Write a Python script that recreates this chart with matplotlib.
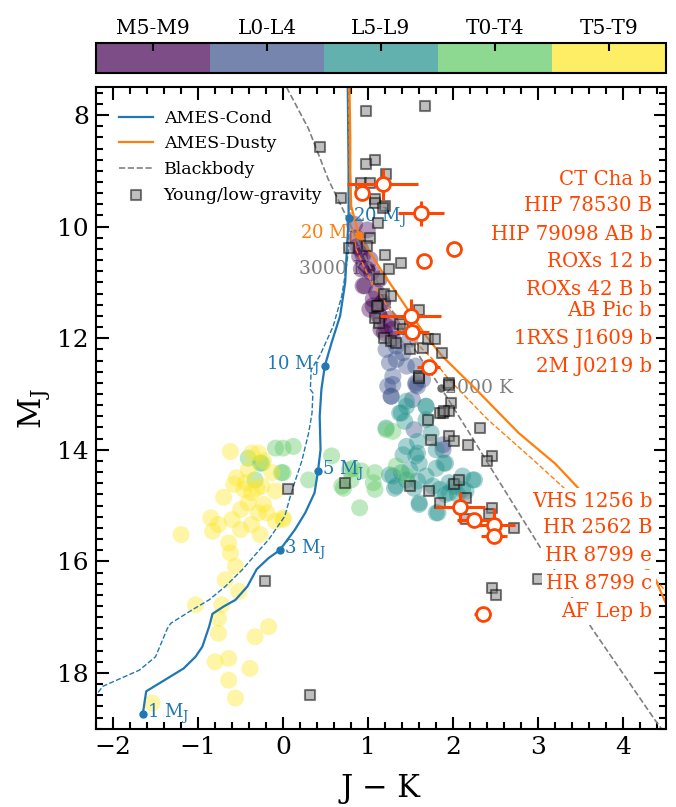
import numpy as np
import matplotlib.pyplot as plt
from matplotlib import colors, cm

plt.rcParams['font.family'] = 'DejaVu Serif'
plt.rcParams['mathtext.fontset'] = 'dejavuserif'

# field dwarfs: J-K colour, M_J, numeric spectral type (M5=15, L0=20, T0=30)
field_jk = [0.84, 0.99, 0.88, 0.94, 1.02, 0.92, 1.04, 1.13, 0.96, 1.10, 1.06, 1.17, 1.13, 1.21, 1.19, 1.29,
            0.90, 0.98, 0.94, 1.06, 1.02, 1.17, 1.13, 1.25, 1.15, 1.29, 0.86, 0.91,
            1.21, 1.25, 1.33, 1.45, 1.29, 1.27, 1.56, 1.56, 1.64, 1.41, 1.49, 1.23, 1.58, 1.33,
            1.54, 1.88, 1.29, 1.56, 1.52, 1.27, 1.88,
            1.45, 1.37, 1.43, 1.68, 1.68, 1.21, 1.74, 1.58, 1.45, 1.80, 1.58, 1.41, 1.60, 1.89,
            1.80, 1.25, 1.39, 1.49, 1.31, 1.45, 1.58, 1.68, 1.54, 1.76, 1.84, 1.95, 2.11, 2.23,
            1.91, 2.15, 1.60, 1.80, 1.95, 1.39, 1.45, 1.68, 1.33, 1.29, 1.60, 1.82, 2.11, 2.25,
            1.91, 1.56, 2.01, 2.05,
            1.21, 1.29, 0.57, 0.78, 0.92, 1.08, 0.30, 0.69, 0.80, 1.06, 1.08, 0.90, 1.33, 1.45,
            -0.09, 0.00, 0.12, -0.25, -0.02, -0.41, -0.27, 0.00, -0.33, 0.82, 0.71,
            -0.62, -0.29, -0.13, -0.41, -0.58, -0.44, -0.25, -0.09, -0.37, -0.50, -0.41, -0.23,
            -0.29, -0.19, -0.09, 0.00, -0.37, -0.60, -0.50, -0.85, -0.76, -0.83, -0.27, -1.20,
            -0.64, -0.62, -0.56, -0.68, -0.52, -1.03, -0.72, -0.76, -0.76, -0.33, -0.17, -0.80,
            -0.64, -0.39, -0.64, -0.56, -1.54, -0.23, -0.46, -0.31, 0.00, -0.37, -0.55, -0.70]
field_mj = [9.96, 10.06, 10.35, 10.50, 10.59, 10.76, 10.82, 10.94, 11.06, 11.18, 11.42, 11.36, 11.60, 11.78, 11.90, 12.02,
            10.53, 10.76, 11.06, 11.30, 11.48, 11.36, 11.60, 11.66, 11.84, 11.84, 10.20, 10.40,
            12.20, 12.44, 12.38, 12.50, 12.68, 13.04, 12.50, 12.80, 12.74, 12.26, 12.02, 12.86, 12.86, 12.14,
            13.64, 13.91, 12.83, 12.83, 13.10, 13.04, 14.00,
            13.13, 13.34, 13.49, 13.22, 13.46, 13.61, 13.70, 13.85, 13.94, 14.00, 14.06, 14.09, 14.24, 14.24,
            14.33, 14.45, 14.41, 14.36, 14.69, 14.54, 14.56, 14.47, 14.69, 14.65, 14.71, 14.59, 14.47, 14.54,
            14.80, 14.74, 14.98, 15.13, 14.77, 13.34, 13.22, 13.22, 14.65, 14.47, 14.95, 15.13, 14.71, 14.54,
            14.24, 14.11, 14.65, 14.80,
            13.64, 13.67, 14.11, 14.36, 14.38, 14.41, 14.54, 14.65, 14.54, 14.59, 14.71, 15.04, 14.29, 14.47,
            13.97, 13.97, 13.94, 14.24, 14.41, 14.15, 14.24, 14.41, 14.54, 14.33, 14.69,
            14.03, 14.06, 14.41, 14.36, 14.62, 14.59, 14.65, 14.74, 14.77, 15.07, 14.95, 14.98,
            15.13, 15.13, 15.28, 15.22, 15.34, 15.25, 15.43, 15.22, 15.34, 15.46, 15.52, 15.52,
            15.67, 15.85, 16.09, 16.33, 16.54, 16.78, 16.78, 17.02, 17.29, 17.35, 17.17, 17.80,
            17.74, 17.92, 18.13, 18.45, 18.54, 14.20, 14.71, 14.69, 15.25, 14.06, 14.50, 14.85]
field_spt = [17] * 28 + [22] * 21 + [27] * 46 + [32] * 25 + [37] * 48

# young / low-gravity objects
young_jk = [0.97, 0.43, 1.08, 0.97, 0.92, 1.02, 0.68, 1.08, 1.20, 1.11, 1.02, 0.99, 1.20, 0.78, 1.25,
            1.21, 1.08, 1.17, 1.39, 1.13, 1.19, 1.27, 1.11, 1.60, 1.13, 1.37, 1.19, 1.27, 1.49, 1.64,
            1.70, 1.78, 1.87, 1.60, 1.95, 1.67, 1.10, 1.08, 1.33, 1.41, 1.60, 1.95, 1.97, 1.88, 1.95,
            1.70, 2.32, 1.74, 1.95, 2.01, 2.17, 2.46, 2.40, 0.73, 0.06, 1.49, 1.72, 1.84, 2.01, 2.07,
            2.15, 2.46, 2.42, 2.71, -0.21, 0.32, 2.46, 2.50, 3.00, 1.84, 1.89, 2.15]
young_mj = [7.93, 8.57, 8.80, 8.88, 9.21, 9.21, 9.49, 9.51, 9.63, 9.94, 10.20, 10.35, 10.50, 10.38, 10.76,
            9.06, 9.57, 9.66, 10.66, 10.94, 11.21, 11.24, 11.42, 11.49, 11.72, 11.75, 11.99, 12.05, 12.20, 12.17,
            12.02, 12.02, 12.26, 12.68, 12.80, 7.84, 11.42, 11.63, 12.08, 11.84, 12.71, 12.83, 13.16, 13.34, 13.31,
            13.46, 13.61, 13.82, 13.76, 13.85, 13.91, 14.11, 14.20, 14.59, 14.70, 14.65, 14.74, 14.95, 14.62, 14.54,
            14.86, 15.04, 15.16, 15.40, 16.36, 18.39, 16.48, 16.61, 16.31, 13.34, 13.31, 15.24]

# directly imaged companions
planet_jk = [1.17, 0.93, 1.62, 2.01, 1.66, 1.50, 1.52, 1.71, 2.08, 2.25, 2.48, 2.48, 2.35]
planet_jk_err = [0.42, 0.05, 0.27, 0.05, 0.05, 0.36, 0.20, 0.13, 0.29, 0.20, 0.25, 0.15, 0.10]
planet_mj = [9.24, 9.40, 9.76, 10.41, 10.62, 11.60, 11.89, 12.51, 15.03, 15.26, 15.35, 15.54, 16.94]
planet_mj_err = [0.28, 0.05, 0.22, 0.05, 0.05, 0.30, 0.10, 0.08, 0.28, 0.10, 0.30, 0.08, 0.05]
planet_names = ['CT Cha b', 'HIP 78530 B', 'HIP 79098 AB b', 'ROXs 12 b', 'ROXs 42 B b', 'AB Pic b',
                '1RXS J1609 b', '2M J0219 b', 'VHS 1256 b', 'HR 2562 B', 'HR 8799 e', 'HR 8799 c',
                'AF Lep b']
label_mj = [9.15, 9.62, 10.14, 10.63, 11.13, 11.50, 12.00, 12.50, 14.93, 15.40, 15.90, 16.40, 16.90]

# AMES-Cond isochrone (solid) and its companion track (dashed)
cond_jk = [0.76, 0.77, 0.77, 0.75, 0.73, 0.67, 0.57, 0.49, 0.45, 0.43, 0.44, 0.41, 0.37, 0.26, 0.14,
           -0.04, -0.17, -0.31, -0.42, -0.56, -0.70, -0.83, -0.87, -0.95, -1.03, -1.17, -1.61, -1.65]
cond_mj = [7.5, 9.0, 9.85, 10.4, 11.0, 11.6, 12.08, 12.5, 12.92, 13.4, 14.0, 14.38, 14.77, 15.13, 15.43,
           15.8, 15.94, 16.14, 16.45, 16.69, 16.81, 16.94, 17.17, 17.53, 17.71, 17.92, 18.33, 18.74]
cond2_jk = [0.77, 0.77, 0.74, 0.69, 0.59, 0.43, 0.33, 0.32, 0.35, 0.34, 0.30, 0.22, 0.10, 0.02, -0.17,
            -0.31, -0.48, -0.68, -0.87, -1.07, -1.32, -1.36, -1.50, -1.69, -2.12, -2.25]
cond2_mj = [7.5, 10.41, 10.76, 11.24, 11.78, 12.32, 12.56, 12.92, 12.98, 13.34, 13.7, 14.2, 14.75, 15.19,
            15.61, 15.85, 16.15, 16.45, 16.69, 16.87, 17.11, 17.2, 17.71, 17.95, 18.24, 18.5]
cond_mass_jk = [0.77, 0.49, 0.41, -0.04, -1.65]
cond_mass_mj = [9.85, 12.5, 14.38, 15.8, 18.74]
cond_mass = [20, 10, 5, 3, 1]

# AMES-Dusty
dusty_jk = [0.78, 0.79, 0.79, 0.80, 0.89, 1.02, 1.17, 1.33, 1.49, 1.68, 1.87, 2.07, 2.27, 2.77, 3.2,
            3.46, 3.9, 4.37, 4.5, 4.6]
dusty_mj = [7.5, 8.43, 9.0, 9.63, 10.15, 10.46, 10.82, 11.18, 11.54, 11.96, 12.32, 12.62, 12.92, 13.7,
            14.25, 14.67, 15.4, 16.3, 16.75, 17.1]
dusty2_jk = [0.77, 0.78, 0.80, 0.86, 1.02, 1.17, 1.33, 1.52, 1.76, 1.95, 2.4, 2.94, 3.27, 3.8, 4.3, 4.6]
dusty2_mj = [7.5, 9.0, 9.93, 10.41, 10.94, 11.3, 11.66, 12.02, 12.38, 12.74, 13.45, 14.18, 14.64, 15.4,
             16.2, 16.7]

# blackbody colours
bb_jk = [0.04, 0.30, 0.53, 0.76, 0.98, 1.25, 1.52, 1.86, 2.19, 2.5, 3.04, 3.63, 4.37, 4.55]
bb_mj = [7.5, 8.25, 9.15, 9.87, 10.59, 11.42, 12.14, 12.9, 13.7, 14.47, 15.79, 17.2, 18.84, 19.2]
bb_temp_jk = [1.03, 1.86]
bb_temp_mj = [10.76, 12.9]

sp_bins = [15, 20, 25, 30, 35, 40]
sp_names = ['M5-M9', 'L0-L4', 'L5-L9', 'T0-T4', 'T5-T9']

fig = plt.figure(figsize=(6.76, 8.07), dpi=100)
ax = fig.add_axes([0.142, 0.097, 0.843, 0.795])
cax = fig.add_axes([0.142, 0.9095, 0.843, 0.037])

cmap = plt.get_cmap('viridis', 5)
norm = colors.Normalize(vmin=sp_bins[0], vmax=sp_bins[-1])

ax.scatter(field_jk, field_mj, c=field_spt, cmap=cmap, norm=norm, s=150, alpha=0.4,
           edgecolors='none', zorder=1)

ax.plot(cond_jk, cond_mj, color='tab:blue', lw=1.6, zorder=2, label='AMES-Cond')
ax.plot(cond2_jk, cond2_mj, color='tab:blue', lw=1.0, ls='--', zorder=2)
ax.plot(dusty_jk, dusty_mj, color='tab:orange', lw=1.6, zorder=2, label='AMES-Dusty')
ax.plot(dusty2_jk, dusty2_mj, color='tab:orange', lw=1.0, ls='--', zorder=2)
ax.plot(bb_jk, bb_mj, color='gray', lw=1.2, ls='--', zorder=2, label='Blackbody')

ax.plot(cond_mass_jk, cond_mass_mj, 'o', color='tab:blue', ms=5, zorder=3)
for x, y, m in zip(cond_mass_jk, cond_mass_mj, cond_mass):
    if m == 10:
        ax.text(x - 0.06, y, f'{m} ' + r'$\mathrm{M_J}$', color='tab:blue', fontsize=13,
                ha='right', va='center', zorder=3)
    else:
        ax.text(x + 0.05, y, f'{m} ' + r'$\mathrm{M_J}$', color='tab:blue', fontsize=13,
                ha='left', va='center', zorder=3)
ax.plot([0.89], [10.15], 'o', color='tab:orange', ms=5, zorder=3)
ax.text(0.83, 10.15, r'20 $\mathrm{M_J}$', color='tab:orange', fontsize=13,
        ha='right', va='center', zorder=0.5)

ax.plot(bb_temp_jk, bb_temp_mj, 'o', color='dimgray', ms=5, zorder=0.5)
ax.text(bb_temp_jk[0] - 0.05, bb_temp_mj[0], '3000 K', color='gray', fontsize=13.5,
        ha='right', va='center', zorder=0.5)
ax.text(bb_temp_jk[1] + 0.04, bb_temp_mj[1], '2000 K', color='gray', fontsize=13.5,
        ha='left', va='center', zorder=0.5)

ax.scatter(young_jk, young_mj, marker='s', s=50, facecolor='gray', edgecolor='black',
           lw=1.5, alpha=0.5, zorder=3, label='Young/low-gravity')

ax.errorbar(planet_jk, planet_mj, xerr=planet_jk_err, yerr=planet_mj_err, fmt='o',
            color='orangered', mfc='white', mec='orangered', ms=10, mew=2, elinewidth=2.2,
            capsize=0, zorder=4)
for name, y in zip(planet_names, label_mj):
    ax.text(4.34, y, name, color='orangered', fontsize=14.2, ha='right', va='center', zorder=5,
            bbox=dict(facecolor='white', edgecolor='none', pad=3))

ax.set_xlim(-2.2, 4.5)
ax.set_ylim(19, 7.5)
ax.set_xlabel('J − K', fontsize=22, labelpad=10)
ax.set_ylabel(r'$\mathrm{M_J}$', fontsize=22)
ax.xaxis.set_minor_locator(plt.MultipleLocator(0.2))
ax.yaxis.set_minor_locator(plt.MultipleLocator(0.2))
ax.tick_params(which='both', direction='in', top=True, right=True, labelsize=18, width=1.5)
ax.tick_params(which='major', length=9, pad=5)
ax.tick_params(which='minor', length=5)
for s in ax.spines.values():
    s.set_linewidth(1.5)

ax.legend(loc='upper left', frameon=False, fontsize=12.5, handlelength=2.0,
          handletextpad=0.6, borderaxespad=0.9)

sm = cm.ScalarMappable(norm=norm, cmap=cmap)
cb = fig.colorbar(sm, cax=cax, orientation='horizontal', alpha=0.7)
cb.set_ticks([17.5, 22.5, 27.5, 32.5, 37.5])
cb.set_ticklabels(sp_names)
cax.xaxis.set_ticks_position('top')
cax.xaxis.set_label_position('top')
cax.tick_params(direction='in', length=6, width=1.5, labelsize=14.5)
cb.outline.set_linewidth(1.5)

plt.savefig('out.png', dpi=100)
